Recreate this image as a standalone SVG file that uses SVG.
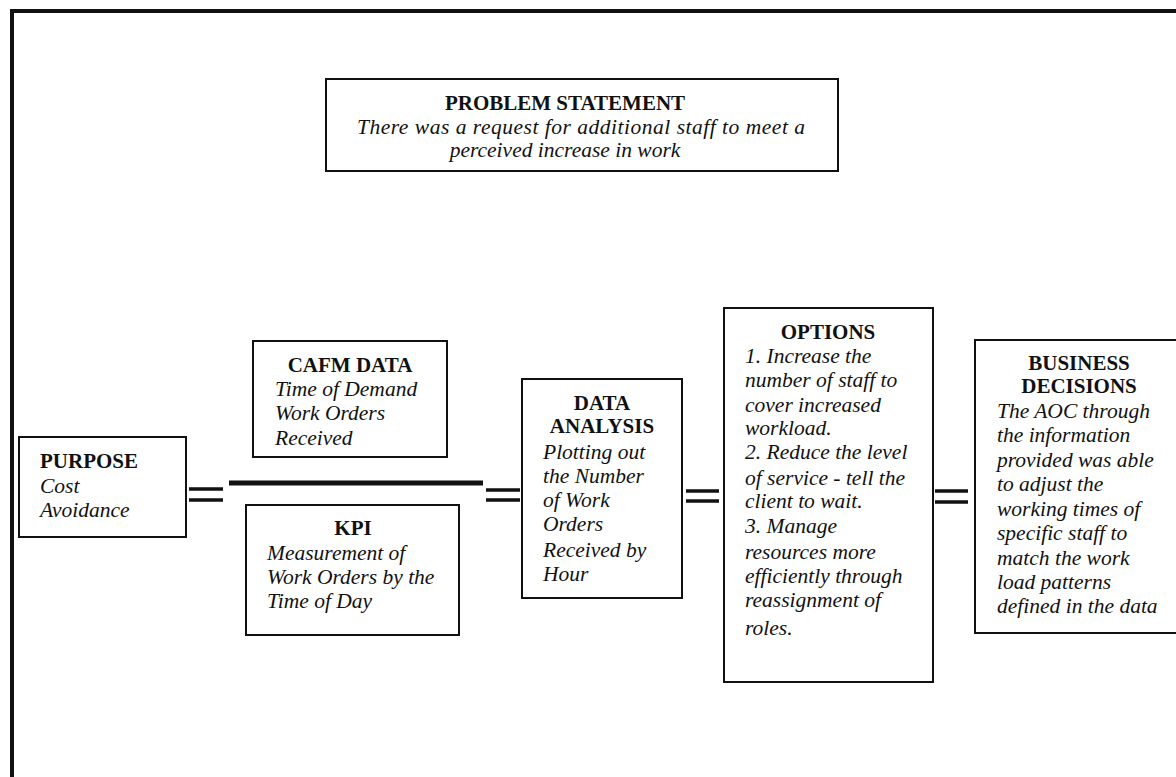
<svg xmlns="http://www.w3.org/2000/svg" width="1176" height="777" viewBox="0 0 1176 777">
<style>
.box{fill:#fff;stroke:#111;stroke-width:2}
.t{font-family:"Liberation Serif","Times New Roman",serif;font-size:21px;fill:#111}
.b{font-weight:bold}
.i{font-style:italic;font-size:21.5px}
.c{text-anchor:middle}
.frame{stroke:#111;stroke-width:4;fill:none}
.dbl{stroke:#111;stroke-width:3.5}
.bar{stroke:#111;stroke-width:5}
</style>
<rect width="1176" height="777" fill="#fff"/>
<g id="frame">
<line class="frame" x1="10" y1="11" x2="1176" y2="11"/>
<line class="frame" x1="12" y1="9" x2="12" y2="777"/>
</g>
<g id="connectors">
<line class="dbl" x1="189" y1="489" x2="223" y2="489"/>
<line class="dbl" x1="189" y1="500" x2="223" y2="500"/>
<line class="bar" x1="229" y1="483" x2="483" y2="483"/>
<line class="dbl" x1="486" y1="490" x2="520" y2="490"/>
<line class="dbl" x1="486" y1="500" x2="520" y2="500"/>
<line class="dbl" x1="686" y1="491" x2="719" y2="491"/>
<line class="dbl" x1="686" y1="501" x2="719" y2="501"/>
<line class="dbl" x1="935" y1="491" x2="968" y2="491"/>
<line class="dbl" x1="935" y1="502" x2="968" y2="502"/>
</g>
<g id="problem">
<rect class="box" x="326" y="79" width="512" height="92"/>
<text class="t b c" x="565" y="110">PROBLEM STATEMENT</text>
<text class="t i c" x="581" y="134" textLength="448" lengthAdjust="spacing">There was a request for additional staff to meet a</text>
<text class="t i c" x="565" y="157">perceived increase in work</text>
</g>
<g id="purpose">
<rect class="box" x="19" y="437" width="167" height="100"/>
<text class="t b" x="40" y="468">PURPOSE</text>
<text class="t i" x="40" y="493">Cost</text>
<text class="t i" x="40" y="517">Avoidance</text>
</g>
<g id="cafm">
<rect class="box" x="253" y="341" width="194" height="116"/>
<text class="t b c" x="350" y="372">CAFM DATA</text>
<text class="t i" x="275" y="396">Time of Demand</text>
<text class="t i" x="275" y="420">Work Orders</text>
<text class="t i" x="275" y="445">Received</text>
</g>
<g id="kpi">
<rect class="box" x="246" y="505" width="213" height="130"/>
<text class="t b c" x="353" y="535">KPI</text>
<text class="t i" x="267" y="560">Measurement of</text>
<text class="t i" x="267" y="584">Work Orders by the</text>
<text class="t i" x="267" y="608">Time of Day</text>
</g>
<g id="analysis">
<rect class="box" x="522" y="379" width="160" height="219"/>
<text class="t b c" x="602" y="410">DATA</text>
<text class="t b c" x="602" y="433">ANALYSIS</text>
<text class="t i" x="543" y="459">Plotting out</text>
<text class="t i" x="543" y="483">the Number</text>
<text class="t i" x="543" y="507">of Work</text>
<text class="t i" x="543" y="531">Orders</text>
<text class="t i" x="543" y="557">Received by</text>
<text class="t i" x="543" y="581">Hour</text>
</g>
<g id="options">
<rect class="box" x="724" y="308" width="209" height="374"/>
<text class="t b c" x="828" y="339">OPTIONS</text>
<text class="t i" x="745" y="363">1. Increase the</text>
<text class="t i" x="745" y="387">number of staff to</text>
<text class="t i" x="745" y="412">cover increased</text>
<text class="t i" x="745" y="435">workload.</text>
<text class="t i" x="745" y="459">2. Reduce the level</text>
<text class="t i" x="745" y="485">of service - tell the</text>
<text class="t i" x="745" y="508">client to wait.</text>
<text class="t i" x="745" y="533">3. Manage</text>
<text class="t i" x="745" y="559">resources more</text>
<text class="t i" x="745" y="583">efficiently through</text>
<text class="t i" x="745" y="607">reassignment of</text>
<text class="t i" x="745" y="635">roles.</text>
</g>
<g id="decisions">
<rect class="box" x="975" y="340" width="220" height="293"/>
<text class="t b c" x="1079" y="370">BUSINESS</text>
<text class="t b c" x="1079" y="393">DECISIONS</text>
<text class="t i" x="997" y="418">The AOC through</text>
<text class="t i" x="997" y="442">the information</text>
<text class="t i" x="997" y="467">provided was able</text>
<text class="t i" x="997" y="491">to adjust the</text>
<text class="t i" x="997" y="516">working times of</text>
<text class="t i" x="997" y="540">specific staff to</text>
<text class="t i" x="997" y="565">match the work</text>
<text class="t i" x="997" y="589">load patterns</text>
<text class="t i" x="997" y="613">defined in the data</text>
</g>
</svg>
